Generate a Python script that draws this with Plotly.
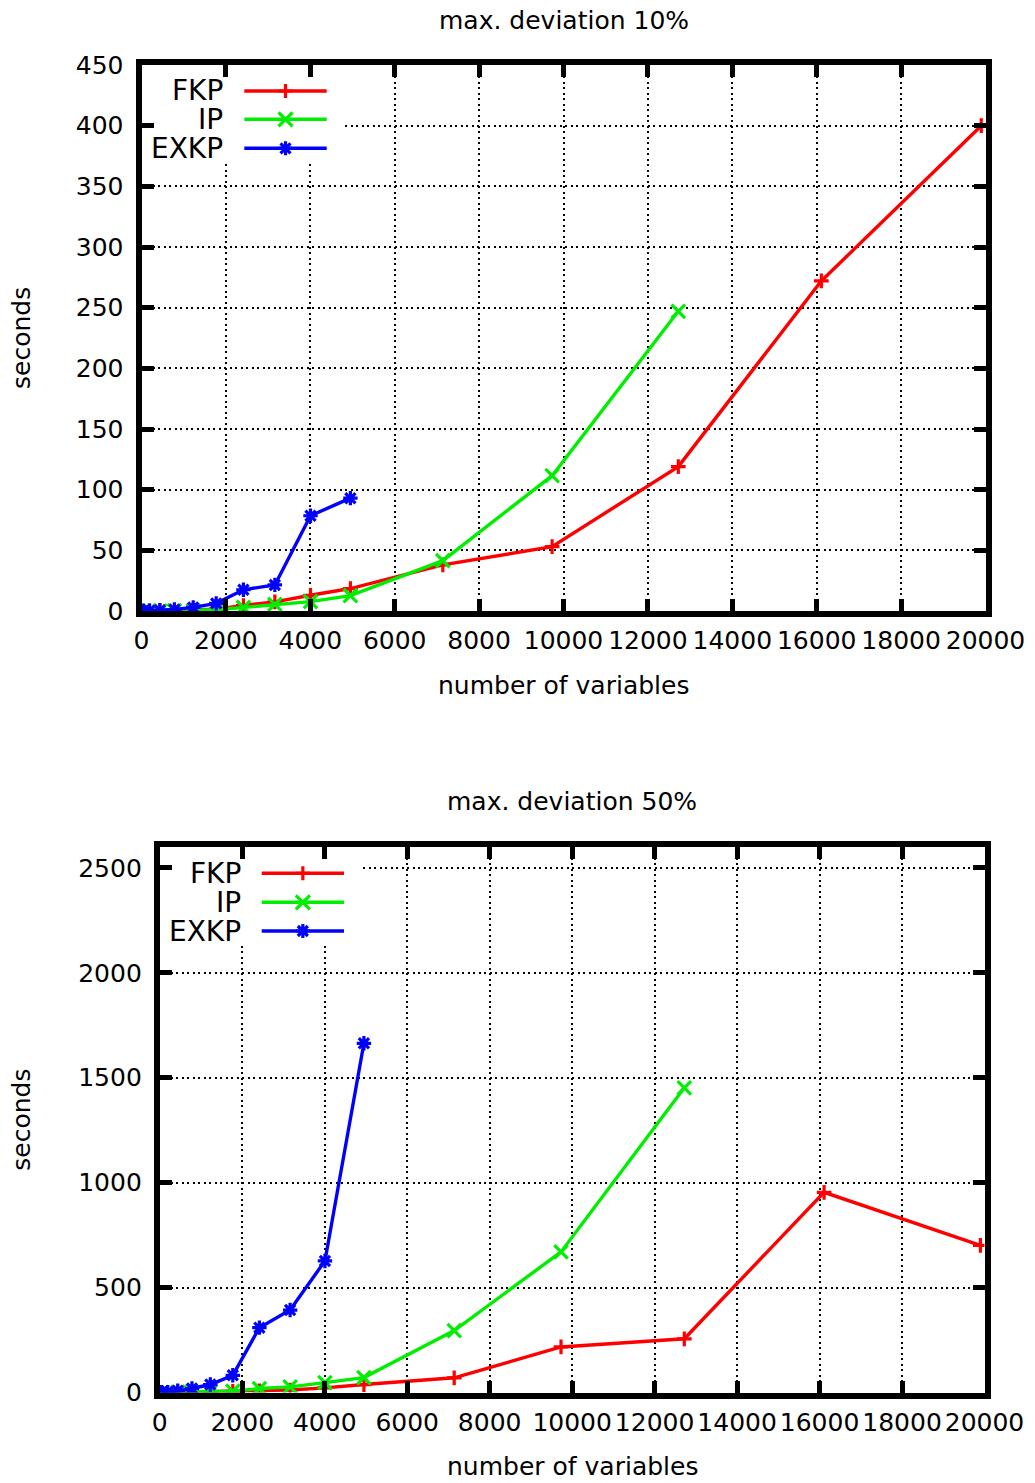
import plotly.graph_objects as go

W, H = 1035, 1483

# ---------------- data ----------------
variables = [45, 190, 435, 780, 1225, 1770, 2415, 3160, 4005, 4950, 7140, 9730, 12720, 16110, 19900]

fkp_10 = [0.1, 0.2, 0.3, 0.6, 1.0, 1.5, 4.5, 7.5, 13, 18.5, 38, 53, 119, 272, 400]
ip_10 = [0.1, 0.1, 0.2, 0.3, 0.6, 1.0, 3, 5.5, 7.7, 12.7, 41.5, 111.5, 247]
exkp_10 = [0.1, 0.3, 0.6, 1.2, 3, 6.3, 17.5, 21.5, 78.5, 93]

fkp_50 = [0.5, 1, 2, 3, 4, 5, 8, 12, 22, 38, 70, 217, 256, 954, 701]
ip_50 = [0.5, 1, 2, 3, 4, 6, 19, 27, 47, 71, 295, 670, 1452]
exkp_50 = [1, 2, 8, 19, 38, 82, 309, 393, 627, 1664]

series_names = ["FKP", "IP", "EXKP"]
series_colors = ["#ff0000", "#00ee00", "#0000ff"]
series_symbols = ["cross-thin", "x-thin", "asterisk"]
symbol_sizes = [10.5, 13.5, 12]

titles = ["max. deviation 10%", "max. deviation 50%"]
x_title = "number of variables"
y_title = "seconds"

FONT = "DejaVu Sans"

# ---------------- layout helpers (pixel -> paper) ----------------
def px(x):
    return x / W

def py(y):
    return 1 - y / H

# plot areas in pixels: (left, right, top, bottom)
areas = [(141.5, 985.5, 65.0, 611.0), (159.8, 984.5, 846.9, 1392.5)]
x_range = [0, 20000]
y_ranges = [[0, 450], [0, 2600]]
y_dticks = [50, 500]

# key layout in pixels
legend_boxes = [
    dict(text_right=225, line_x=(244.3, 326.7), rows=[91, 119.3, 148.3], box=(343, 163)),
    dict(text_right=242.7, line_x=(261.7, 344), rows=[873.3, 902.3, 931], box=(360, 945)),
]

fig = go.Figure()

datasets = [
    [fkp_10, ip_10, exkp_10],
    [fkp_50, ip_50, exkp_50],
]
axis_ids = [("x", "y"), ("x2", "y2")]

for p, sets in enumerate(datasets):
    xa, ya = axis_ids[p]
    l, r, t, b = areas[p]
    ymax = y_ranges[p][1]
    # white background of the key box (hides the grid behind it)
    bx, bb = legend_boxes[p]["box"]
    kx = (bx - l) / (r - l) * x_range[1]
    ky = (b - bb) / (b - t) * ymax
    fig.add_trace(go.Scatter(
        x=[-1000, kx, kx, -1000, -1000], y=[ky, ky, ymax * 1.1, ymax * 1.1, ky],
        mode="lines", fill="toself", fillcolor="white", line=dict(width=0, color="white"),
        xaxis=xa, yaxis=ya, showlegend=False, hoverinfo="skip",
    ))
    for k, vals in enumerate(sets):
        fig.add_trace(go.Scatter(
            x=variables[:len(vals)], y=vals,
            mode="lines+markers",
            name=series_names[k],
            xaxis=xa, yaxis=ya,
            showlegend=False,
            line=dict(color=series_colors[k], width=3.4),
            marker=dict(symbol=series_symbols[k], size=symbol_sizes[k],
                        color=series_colors[k],
                        line=dict(color=series_colors[k], width=3.2)),
        ))


def axis_style(rng, dtick, standoff):
    return dict(
        range=rng, dtick=dtick, tick0=0, tickformat="d",
        showline=True, linewidth=6, linecolor="black", mirror="ticks",
        ticks="inside", ticklen=12, tickwidth=5, tickcolor="black",
        showgrid=True, gridcolor="black", gridwidth=2, griddash="2px,3.5px",
        zeroline=False, automargin=False, fixedrange=True,
        tickfont=dict(family=FONT, size=25, color="black"),
        ticklabelstandoff=standoff,
    )

layout = dict(
    width=W, height=H, autosize=False,
    margin=dict(l=0, r=0, t=0, b=0, pad=0),
    paper_bgcolor="white", plot_bgcolor="white",
    showlegend=False,
    font=dict(family=FONT, size=25, color="black"),
)
for p in range(2):
    l, r, t, b = areas[p]
    sx = "" if p == 0 else "2"
    xa = axis_style(x_range, 2000, 2)
    xa["domain"] = [px(l), px(r)]
    xa["anchor"] = "y" + sx
    ya = axis_style(y_ranges[p], y_dticks[p], 7)
    ya["domain"] = [py(b), py(t)]
    ya["anchor"] = "x" + sx
    layout["xaxis" + sx] = xa
    layout["yaxis" + sx] = ya
fig.update_layout(**layout)

annotations = []
shapes = []

# titles and axis titles
for p in range(2):
    l, r, t, b = areas[p]
    cx = (l + r) / 2
    cy = (t + b) / 2
    annotations.append(dict(text=titles[p], x=px(cx), y=py(t - 45), xref="paper", yref="paper",
                            xanchor="center", yanchor="middle", showarrow=False,
                            font=dict(family=FONT, size=25, color="black")))
    annotations.append(dict(text=x_title, x=px(cx), y=py(b + 74), xref="paper", yref="paper",
                            xanchor="center", yanchor="middle", showarrow=False,
                            font=dict(family=FONT, size=25, color="black")))
    annotations.append(dict(text=y_title, x=px(22), y=py(cy), xref="paper", yref="paper",
                            xanchor="center", yanchor="middle", showarrow=False, textangle=-90,
                            font=dict(family=FONT, size=25, color="black")))

# keys (gnuplot style: text on the left, sample on the right)
for p, lg in enumerate(legend_boxes):
    x0, x1 = lg["line_x"]
    mx = (x0 + x1) / 2
    for k, yy in enumerate(lg["rows"]):
        annotations.append(dict(text=series_names[k], x=px(lg["text_right"]), y=py(yy),
                                xref="paper", yref="paper", xanchor="right", yanchor="middle",
                                height=27, valign="middle",
                                showarrow=False, font=dict(family=FONT, size=28, color="black")))
        col = series_colors[k]
        shapes.append(dict(type="line", xref="paper", yref="paper",
                           x0=px(x0), x1=px(x1), y0=py(yy), y1=py(yy),
                           line=dict(color=col, width=3.4), layer="above"))
        h = 7
        segs = []
        if k in (0, 2):
            segs.append(((mx - h, yy), (mx + h, yy)))
            segs.append(((mx, yy - h), (mx, yy + h)))
        if k in (1, 2):
            d = 7 if k == 1 else 5
            segs.append(((mx - d, yy - d), (mx + d, yy + d)))
            segs.append(((mx - d, yy + d), (mx + d, yy - d)))
        path = " ".join(f"M{px(a[0]):.5f},{py(a[1]):.5f} L{px(c[0]):.5f},{py(c[1]):.5f}" for a, c in segs)
        shapes.append(dict(type="path", xref="paper", yref="paper", path=path,
                           line=dict(color=col, width=3.2), layer="above"))

fig.update_layout(annotations=annotations, shapes=shapes)

fig.write_html("out.html", config={"displayModeBar": False, "staticPlot": True})
